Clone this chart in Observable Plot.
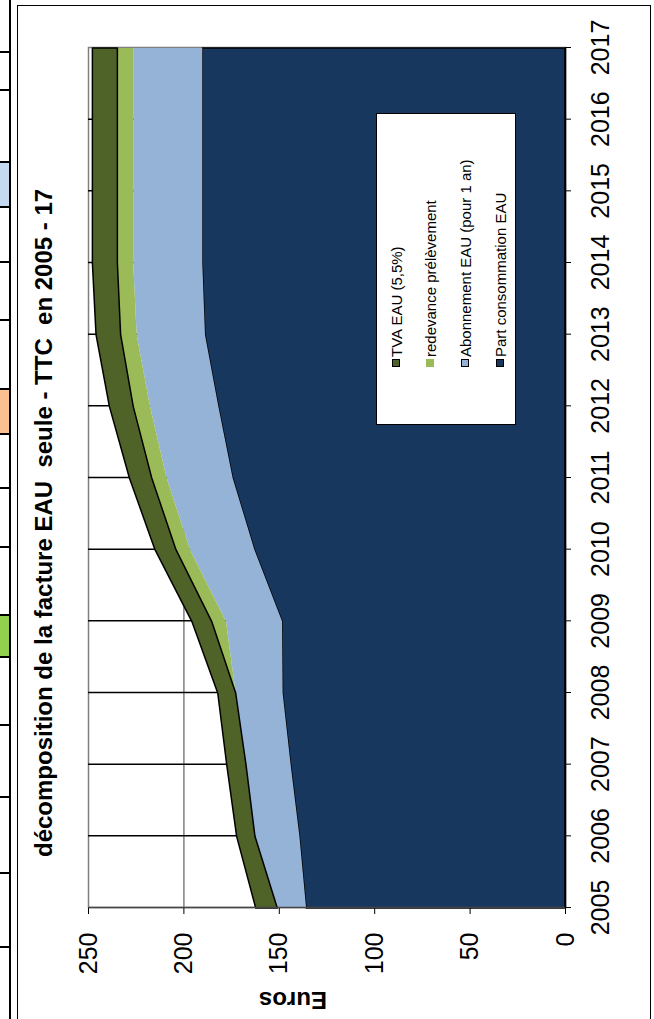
<!DOCTYPE html>
<html>
<head>
<meta charset="utf-8">
<script src="https://cdn.jsdelivr.net/npm/d3@7"></script>
<script src="https://cdn.jsdelivr.net/npm/@observablehq/plot@0.6"></script>
<style>
  html, body { margin: 0; padding: 0; background: #fff; }
  #page { position: relative; width: 654px; height: 1019px; overflow: hidden; background: #fff;
          font-family: "Liberation Sans", Arial, sans-serif; }
  .abs { position: absolute; }
  #chartwrap { position: absolute; left: 17px; top: 5px; width: 1014px; height: 633px;
               transform-origin: 0 0; transform: translate(0, 1014px) rotate(-90deg); }
  #title { position: absolute; left: 162px; top: 13px; font-weight: bold; font-size: 24px;
           white-space: pre; color: #000; }
  #legend { position: absolute; left: 594px; top: 359px; width: 312px; height: 140px;
            border: 1px solid #000; background: #fff; box-sizing: border-box; }
  .lg-row { position: absolute; left: 57px; height: 18px; display: flex; align-items: center;
            font-size: 15px; white-space: pre; color: #000; }
  .lg-sq { width: 8px; height: 8px; margin-right: 2px; box-sizing: border-box; }
</style>
</head>
<body>
<div id="page"></div>
<script>
// ---- data ----
const years = [2005, 2006, 2007, 2008, 2009, 2010, 2011, 2012, 2013, 2014, 2015, 2016, 2017];
const consommation = [135.7, 139.2, 143.8, 148.0, 148.3, 162.8, 174.2, 181.7, 188.7, 190.1, 190.1, 190.1, 190.1];
const abonnement   = [15.1, 23.3, 23.4, 24.6, 29.4, 33.7, 34.6, 35.8, 35.8, 36.2, 36.2, 36.2, 36.2];
const redevance    = [0, 0, 0, 0, 7.5, 7.4, 7.8, 8.8, 8.4, 8.3, 8.3, 8.3, 8.3];
const tva          = [11.3, 9.6, 10.1, 9.4, 10.4, 11.0, 11.7, 12.5, 12.9, 13.1, 13.1, 13.1, 13.1];

const seriesNames  = ["Part consommation EAU", "Abonnement EAU (pour 1 an)", "redevance prélèvement", "TVA EAU (5,5%)"];
const seriesValues = [consommation, abonnement, redevance, tva];
const seriesColors = ["#17375e", "#95b3d7", "#9bbb59", "#4f6228"];
const seriesOutline = [1, 0, 0, 1];
const legendBorder = [true, true, false, true];
const valueTicks = [0, 50, 100, 150, 200, 250];
const gridValues = [50, 100, 150, 200];
const gridYears = [2006, 2007, 2008, 2009, 2010, 2011, 2012, 2013, 2014, 2015, 2016];

const titleText = "décomposition de la facture EAU  seule - TTC  en 2005 - 17";
const yLabel = "Euros";

// left-hand table remnants (page decoration)
const tableLines = [52, 90, 162, 207, 262, 320, 389, 434, 488, 547, 615, 657, 725, 797, 873, 947];
const tableCells = [{y0: 162, y1: 207, c: "#c5d9f1"}, {y0: 389, y1: 434, c: "#fac090"}, {y0: 615, y1: 657, c: "#92d050"}];

// ---- build ----
const page = document.getElementById("page");
function addDiv(css) { const d = document.createElement("div"); d.className = "abs"; Object.assign(d.style, css); page.appendChild(d); return d; }

tableCells.forEach(c => addDiv({left: "0px", top: c.y0 + "px", width: "10px", height: (c.y1 - c.y0) + "px", background: c.c}));
tableLines.forEach(y => addDiv({left: "0px", top: (y - 1) + "px", width: "10px", height: "2px", background: "#000"}));
addDiv({left: "9px", top: "0px", width: "2px", height: "1019px", background: "#000"});
// chart object border
addDiv({left: "17px", top: "5px", width: "1px", height: "1014px", background: "#000"});
addDiv({left: "17px", top: "5px", width: "634px", height: "1px", background: "#000"});
addDiv({left: "650px", top: "5px", width: "1px", height: "1014px", background: "#000"});

const wrap = document.createElement("div");
wrap.id = "chartwrap";
page.appendChild(wrap);

const rows = [];
seriesNames.forEach((s, i) => years.forEach((y, j) => rows.push({year: y, value: seriesValues[i][j], series: s, outline: seriesOutline[i]})));

const chart = Plot.plot({
  width: 1014,
  height: 633,
  marginLeft: 111,
  marginRight: 43,
  marginTop: 71,
  marginBottom: 85,
  style: {fontFamily: "'Liberation Sans', Arial, sans-serif", fontSize: "25px", color: "#000", background: "transparent", overflow: "visible"},
  x: {type: "linear", domain: [2005, 2017]},
  y: {domain: [0, 250]},
  color: {domain: seriesNames, range: seriesColors},
  opacity: {type: "identity"},
  marks: [
    Plot.frame({stroke: "#808080", strokeWidth: 1.5}),
    Plot.gridY(gridValues, {stroke: "#808080", strokeOpacity: 1, strokeWidth: 1.5}),
    Plot.gridX(gridYears, {stroke: "#000", strokeOpacity: 1, strokeWidth: 1.5}),
    Plot.areaY(rows, {x: "year", y: "value", z: "series", fill: "series", order: seriesNames,
                      stroke: "#000", strokeWidth: 1.5, strokeOpacity: "outline"}),
    Plot.ruleY([0], {stroke: "#000", strokeWidth: 1.5}),
    Plot.ruleX([2005], {stroke: "#444", strokeWidth: 1.5}),
    Plot.axisX({ticks: years, tickFormat: d => String(d), tickSize: 6, tickPadding: 20, fontSize: 25, label: null}),
    Plot.axisY({ticks: valueTicks, tickFormat: d => String(d), tickSize: 6, tickPadding: 19, fontSize: 25, label: null}),
    Plot.text([yLabel], {frameAnchor: "left", rotate: -90, dx: -92, fontWeight: "bold", fontSize: 24})
  ]
});
wrap.appendChild(chart);

const title = document.createElement("div");
title.id = "title";
title.textContent = titleText;
wrap.appendChild(title);

const legend = document.createElement("div");
legend.id = "legend";
wrap.appendChild(legend);
const legendOrder = [3, 2, 1, 0];
const rowCenters = [20, 54, 89, 124];
legendOrder.forEach((si, k) => {
  const r = document.createElement("div");
  r.className = "lg-row";
  r.style.top = (rowCenters[k] - 9 - 1) + "px";
  const sq = document.createElement("div");
  sq.className = "lg-sq";
  sq.style.background = seriesColors[si];
  if (legendBorder[si]) sq.style.border = "1px solid #000";
  const t = document.createElement("span");
  t.textContent = seriesNames[si];
  r.appendChild(sq); r.appendChild(t);
  legend.appendChild(r);
});
</script>
</body>
</html>
